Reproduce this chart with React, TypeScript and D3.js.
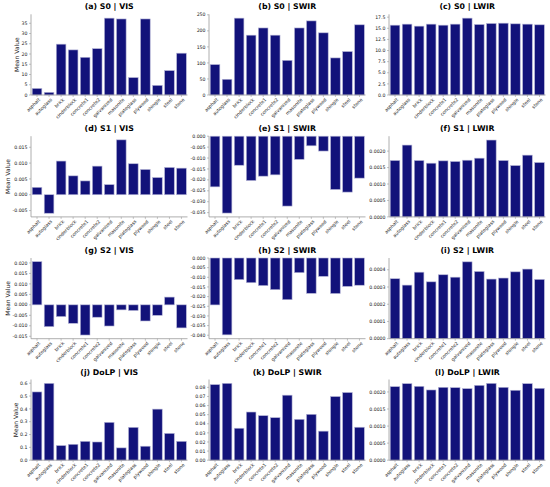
import React from "react";
import * as d3 from "d3";

const categories = [
  "asphalt", "autoglass", "brick", "cinderblock", "concrete1", "concrete2",
  "galvanized", "masonite", "plateglass", "plywood", "shingle", "steel", "stone",
];

const s0Vis = [3.2, 1.3, 24.8, 22.0, 18.4, 22.6, 37.5, 37.1, 8.5, 37.1, 4.7, 11.9, 20.4];
const s0Swir = [94.8, 49, 239.6, 186.5, 209, 186.5, 108, 209, 231, 193.8, 115.6, 135.4, 218.8];
const s0Lwir = [15.7, 15.93, 15.48, 15.93, 15.7, 15.93, 17.28, 15.85, 16.08, 16.15, 16.0, 15.93, 15.78];

const s1Vis = [0.00234, -0.00585, 0.01064, 0.00596, 0.00436, 0.00904, 0.00319, 0.01734, 0.00979, 0.00798, 0.00543, 0.00862, 0.0084];
const s1Swir = [-0.0232, -0.0352, -0.0133, -0.0203, -0.0183, -0.0177, -0.032, -0.0106, -0.0044, -0.0068, -0.0244, -0.0256, -0.0192];
const s1Lwir = [0.001714, 0.002184, 0.001714, 0.001633, 0.001704, 0.001684, 0.001724, 0.001786, 0.002337, 0.001714, 0.001561, 0.001878, 0.001653];

const s2Vis = [0.0206, -0.0104, -0.0056, -0.0088, -0.0144, -0.0059, -0.0101, -0.0024, -0.0027, -0.0077, -0.005, 0.0037, -0.011];
const s2Swir = [-0.0243, -0.0398, -0.0112, -0.0128, -0.0143, -0.0164, -0.0216, -0.0076, -0.0183, -0.0095, -0.0184, -0.0147, -0.0141];
const s2Lwir = [0.000348, 0.000311, 0.000386, 0.00033, 0.000371, 0.000357, 0.000446, 0.00039, 0.000346, 0.000352, 0.000388, 0.000404, 0.000344];

const dolpVis = [0.532, 0.599, 0.114, 0.124, 0.147, 0.142, 0.295, 0.096, 0.256, 0.109, 0.398, 0.209, 0.147];
const dolpSwir = [0.083, 0.0844, 0.0351, 0.0529, 0.0489, 0.0467, 0.0714, 0.0449, 0.0504, 0.0319, 0.0699, 0.0743, 0.0362];
const dolpLwir = [0.002155, 0.002243, 0.002165, 0.002058, 0.002136, 0.002126, 0.002097, 0.002194, 0.002252, 0.002136, 0.002049, 0.002243, 0.002107];

const panelTitles = [
  "(a) S0 | VIS", "(b) S0 | SWIR", "(c) S0 | LWIR",
  "(d) S1 | VIS", "(e) S1 | SWIR", "(f) S1 | LWIR",
  "(g) S2 | VIS", "(h) S2 | SWIR", "(i) S2 | LWIR",
  "(j) DoLP | VIS", "(k) DoLP | SWIR", "(l) DoLP | LWIR",
];
const panelValues = [
  s0Vis, s0Swir, s0Lwir,
  s1Vis, s1Swir, s1Lwir,
  s2Vis, s2Swir, s2Lwir,
  dolpVis, dolpSwir, dolpLwir,
];
const tickSteps = [5, 50, 2.5, 0.005, 0.005, 0.0005, 0.005, 0.005, 0.0001, 0.1, 0.01, 0.0005];
const yLabel = "Mean Value";

const W = 550;
const H = 487;
const colLefts = [31, 209, 389];
const colWidth = 156.5;
const rowTops = [14.3, 136.2, 258, 379.5];
const rowHeight = 80.7;

const FONT = "DejaVu Sans, Verdana, sans-serif";
const TICK_FS = 4.65;
const BAR_FILL = "#12127a";
const BAR_EDGE = "#b4b4d6";
const SPINE = "#9a9a9a";
const TEXT = "#222";

const locale = d3.formatLocale({
  decimal: ".",
  thousands: ",",
  grouping: [3],
  currency: ["$", ""],
  minus: "-",
});

function decimalsOf(step: number): number {
  let d = 0;
  while (d < 10 && Math.abs(Math.round(step * 10 ** d) - step * 10 ** d) > 1e-6) d++;
  return d;
}

function textWidth(s: string, fs: number): number {
  let w = 0;
  for (const ch of s) {
    if (ch === ".") w += 0.318;
    else if (ch === "-") w += 0.361;
    else w += 0.636;
  }
  return w * fs;
}

function yDomain(vals: number[]): [number, number] {
  const mn = Math.min(0, d3.min(vals) as number);
  const mx = Math.max(0, d3.max(vals) as number);
  if (mn >= 0) return [0, mx * 1.05];
  if (mx <= 0) return [mn * 1.05, 0];
  const r = mx - mn;
  return [mn - 0.05 * r, mx + 0.05 * r];
}

function Panel({ idx }: { idx: number }) {
  const row = Math.floor(idx / 3);
  const col = idx % 3;
  const left = colLefts[col];
  const top = rowTops[row];
  const vals = panelValues[idx];
  const step = tickSteps[idx];
  const [lo, hi] = yDomain(vals);
  const y = d3.scaleLinear().domain([lo, hi]).range([top + rowHeight, top]);
  const x = d3
    .scaleBand<string>()
    .domain(categories)
    .range([left, left + colWidth])
    .paddingInner(0.2)
    .paddingOuter(0.1);
  const ticks = d3
    .range(Math.ceil(lo / step - 1e-9), Math.floor(hi / step + 1e-9) + 1)
    .map((k) => k * step + 0);
  const fmt = locale.format(`.${decimalsOf(step)}f`);
  const labels = ticks.map((t) => fmt(t));
  const maxLabelW = d3.max(labels, (s) => textWidth(s, TICK_FS)) as number;
  const bottom = top + rowHeight;
  const cx = left + colWidth / 2;
  const yLabelX = left - 3.5 - maxLabelW - 2.6;
  return (
    <g>
      <text
        x={cx}
        y={top - 5}
        textAnchor="middle"
        fontFamily={FONT}
        fontWeight="bold"
        fontSize={7.8}
        fill="#000"
      >
        {panelTitles[idx]}
      </text>
      {vals.map((v, i) => {
        const y0 = y(0);
        const y1 = y(v);
        return (
          <rect
            key={i}
            x={x(categories[i])}
            y={Math.min(y0, y1)}
            width={x.bandwidth()}
            height={Math.abs(y1 - y0)}
            fill={BAR_FILL}
            stroke={BAR_EDGE}
            strokeWidth={0.6}
          />
        );
      })}
      <line x1={left} x2={left} y1={top} y2={bottom} stroke={SPINE} strokeWidth={0.8} />
      <line x1={left} x2={left + colWidth} y1={bottom} y2={bottom} stroke={SPINE} strokeWidth={0.8} />
      {ticks.map((t, i) => (
        <g key={i}>
          <line x1={left - 2} x2={left} y1={y(t)} y2={y(t)} stroke={SPINE} strokeWidth={0.6} />
          <text
            x={left - 3.5}
            y={y(t)}
            dy="0.35em"
            textAnchor="end"
            fontFamily={FONT}
            fontSize={TICK_FS}
            fill={TEXT}
          >
            {labels[i]}
          </text>
        </g>
      ))}
      {categories.map((c) => {
        const tx = (x(c) as number) + x.bandwidth() / 2;
        return (
          <g key={c}>
            <line x1={tx} x2={tx} y1={bottom} y2={bottom + 2} stroke={SPINE} strokeWidth={0.6} />
            <text
              transform={`translate(${tx + 1},${bottom + 2.5}) rotate(-45)`}
              dy="0.75em"
              textAnchor="end"
              fontFamily={FONT}
              fontSize={TICK_FS}
              fill={TEXT}
            >
              {c}
            </text>
          </g>
        );
      })}
      {col === 0 && (
        <text
          transform={`translate(${yLabelX},${top + rowHeight / 2}) rotate(-90)`}
          textAnchor="middle"
          fontFamily={FONT}
          fontSize={6}
          fill={TEXT}
        >
          {yLabel}
        </text>
      )}
    </g>
  );
}

export default function App() {
  return (
    <svg
      width={W}
      height={H}
      viewBox={`0 0 ${W} ${H}`}
      style={{ position: "absolute", left: 0, top: 0, background: "#fff" }}
    >
      <rect width={W} height={H} fill="#fff" />
      {panelTitles.map((_, i) => (
        <Panel key={i} idx={i} />
      ))}
    </svg>
  );
}
